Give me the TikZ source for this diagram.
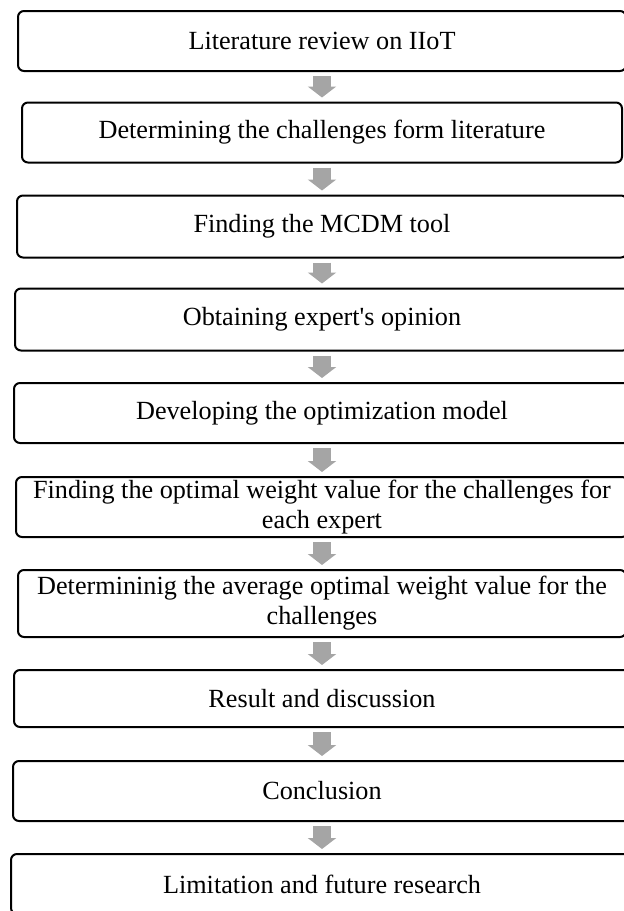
\documentclass[tikz,border=0pt]{standalone}
\usepackage{fontspec}
\setmainfont{Liberation Serif}
\usetikzlibrary{arrows.meta}
\definecolor{arrowgray}{HTML}{A5A5A5}
\begin{document}
\begin{tikzpicture}[x=0.5pt,y=-0.5pt,
  stepbox/.style={draw, line width=1pt, rounded corners=3pt, align=center,
    inner sep=0pt, font=\fontsize{13.1}{15}\selectfont},
  flow/.style={draw=arrowgray, line width=9pt,
    -{Triangle[length=5.5pt,width=14pt]}, shorten <=2pt, shorten >=2pt}]
\useasboundingbox (0,0) rectangle (624,911);

% process steps, top to bottom
\node[stepbox, minimum width=304pt, minimum height=30pt] (b1) at (322,41)
  {Literature review on IIoT};
\node[stepbox, minimum width=300pt, minimum height=30pt] (b2) at (322,132.5)
  {Determining the challenges form literature};
\node[stepbox, minimum width=305pt, minimum height=31pt] (b3) at (322,226.5)
  {Finding the MCDM tool};
\node[stepbox, minimum width=307pt, minimum height=31pt] (b4) at (322,319.5)
  {Obtaining expert\textquotesingle s opinion};
\node[stepbox, minimum width=308pt, minimum height=30pt] (b5) at (322,413)
  {Developing the optimization model};
\node[stepbox, minimum width=306pt, minimum height=30pt] (b6) at (322,507)
  {Finding the optimal weight value for the challenges for\\each expert};
\node[stepbox, minimum width=304pt, minimum height=33.5pt] (b7) at (322,603.5)
  {Determininig the average optimal weight value for the\\challenges};
\node[stepbox, minimum width=308pt, minimum height=28.5pt] (b8) at (322,698.5)
  {Result and discussion};
\node[stepbox, minimum width=309pt, minimum height=30pt] (b9) at (322,791)
  {Conclusion};
\node[stepbox, minimum width=311pt, minimum height=30pt] (b10) at (322,884)
  {Limitation and future research};

% block arrows between consecutive steps
\foreach \a/\b in {b1/b2,b2/b3,b3/b4,b4/b5,b5/b6,b6/b7,b7/b8,b8/b9,b9/b10}
  \draw[flow] (\a.south) -- (\b.north);
\end{tikzpicture}
\end{document}
